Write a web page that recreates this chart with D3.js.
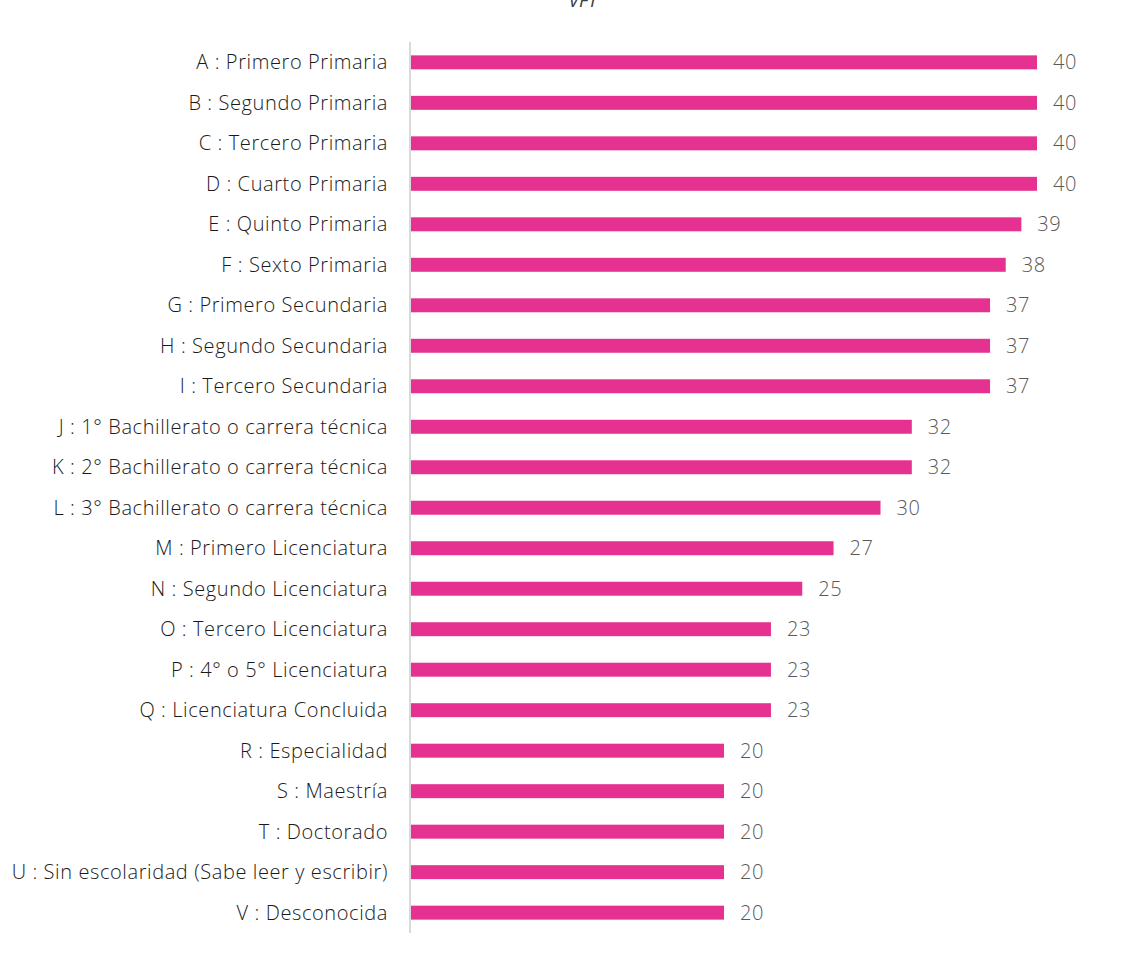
<!DOCTYPE html>
<html><head><meta charset="utf-8">
<script src="https://cdn.jsdelivr.net/npm/d3@7"></script>
<style>body{margin:0;background:#fff}</style>
</head><body>
<svg id="c" width="1133" height="959"></svg>
<script>
const categories = ["A : Primero Primaria","B : Segundo Primaria","C : Tercero Primaria","D : Cuarto Primaria","E : Quinto Primaria","F : Sexto Primaria","G : Primero Secundaria","H : Segundo Secundaria","I : Tercero Secundaria","J : 1° Bachillerato o carrera técnica","K : 2° Bachillerato o carrera técnica","L : 3° Bachillerato o carrera técnica","M : Primero Licenciatura","N : Segundo Licenciatura","O : Tercero Licenciatura","P : 4° o 5° Licenciatura","Q : Licenciatura Concluida","R : Especialidad","S : Maestría","T : Doctorado","U : Sin escolaridad (Sabe leer y escribir)","V : Desconocida"];
const values = [40,40,40,40,39,38,37,37,37,32,32,30,27,25,23,23,23,20,20,20,20,20];
const title = "VFT";

const svg = d3.select("#c");
const font = "'Open Sans', sans-serif";
const x = d3.scaleLinear().domain([0,40]).range([411,1037]);
const y = d3.scaleBand().domain(categories).range([42,933]).paddingInner(0.655).paddingOuter(0.33);

svg.append("text").attr("x",583).attr("y",7).attr("text-anchor","middle")
  .attr("font-family",font).attr("font-style","italic").attr("font-size",19).attr("fill","#404040").text(title);

svg.selectAll("rect.bar").data(values).join("rect").attr("class","bar")
  .attr("x",x(0)).attr("y",(d,i)=>y(categories[i]))
  .attr("width",d=>x(d)-x(0)).attr("height",y.bandwidth()).attr("fill","#E5318F");

svg.append("line").attr("x1",410).attr("x2",410).attr("y1",42).attr("y2",933)
  .attr("stroke","#d9d9d9").attr("stroke-width",2);

svg.selectAll("text.cat").data(categories).join("text").attr("class","cat")
  .attr("x",388).attr("y",d=>y(d)+y.bandwidth()/2).attr("dy","0.35em").attr("text-anchor","end")
  .attr("font-family",font).attr("font-weight",300).attr("font-size",20).attr("letter-spacing",0.6)
  .attr("fill","#1a1a1a").text(d=>d);

svg.selectAll("text.val").data(values).join("text").attr("class","val")
  .attr("x",d=>x(d)+16).attr("y",(d,i)=>y(categories[i])+y.bandwidth()/2).attr("dy","0.35em")
  .attr("font-family",font).attr("font-weight",300).attr("font-size",20).attr("letter-spacing",0.6)
  .attr("fill","#595959").text(d=>d);
</script>
</body></html>
